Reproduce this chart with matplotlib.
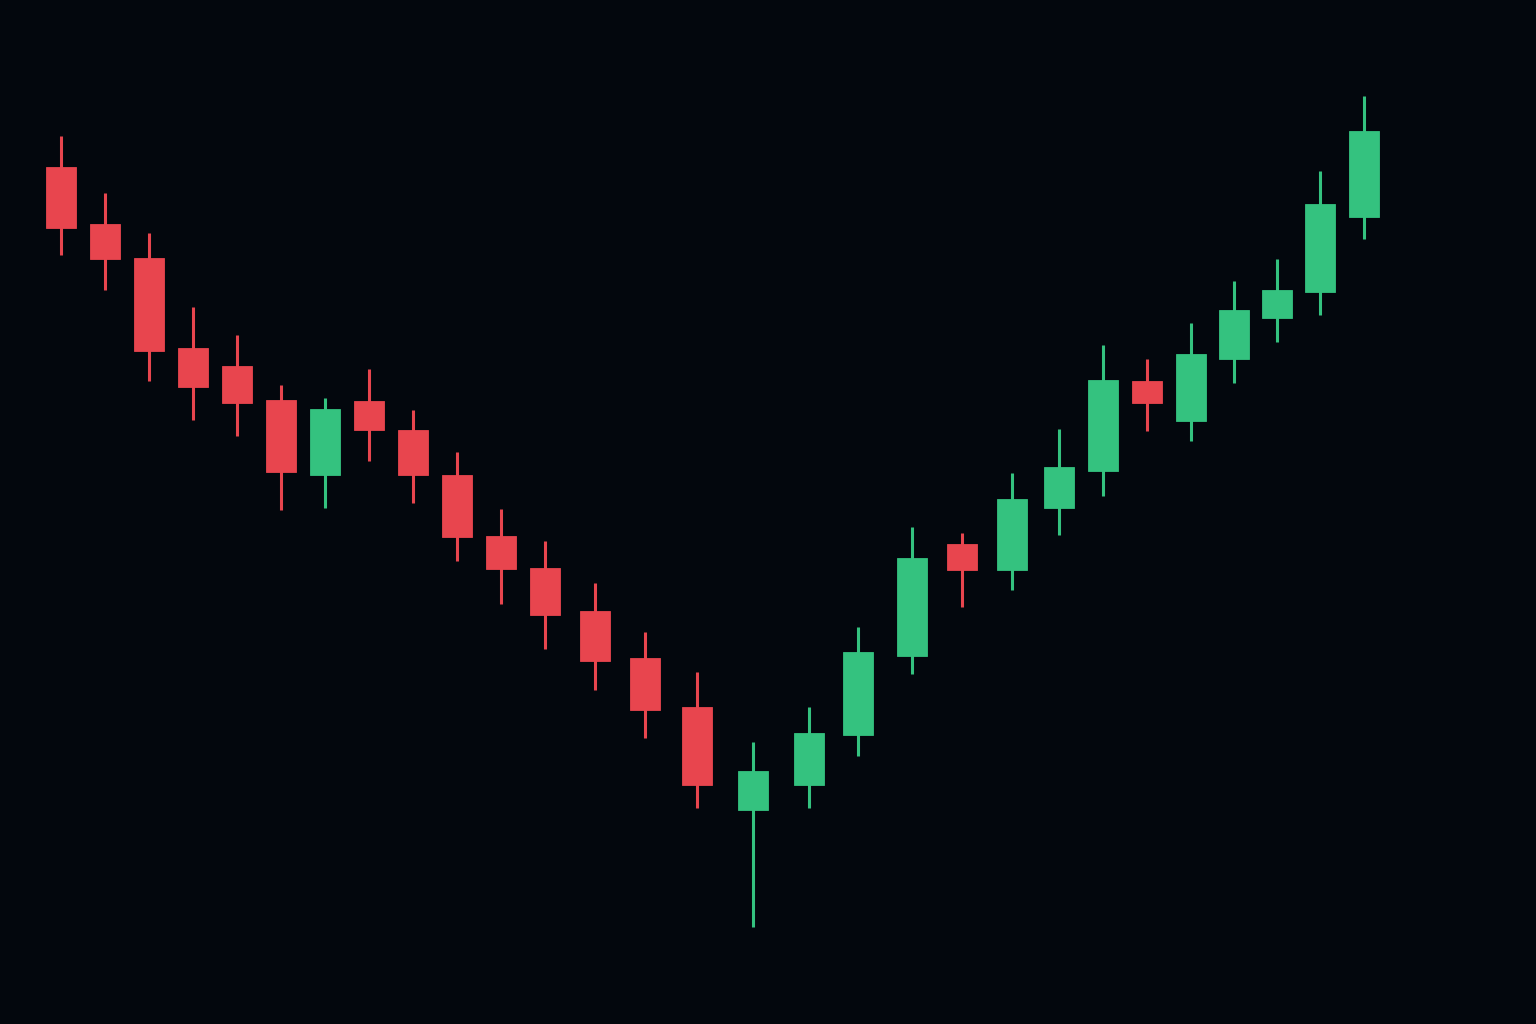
import numpy as np
import matplotlib.pyplot as plt

# session times (irregular spacing as in the source) and OHLC prices
times = [6.1, 10.5, 14.9, 19.3, 23.7, 28.1, 32.5, 36.9, 41.3, 45.7,
         50.1, 54.5, 59.5, 64.5, 69.7, 75.3, 80.9, 85.8, 91.2, 96.2,
         101.2, 105.9, 110.3, 114.7, 119.1, 123.4, 127.7, 132.0, 136.4]
opens = [85.7, 80.0, 76.6, 67.6, 65.8, 62.4, 54.9, 62.3, 59.4, 54.9,
         48.8, 45.6, 41.3, 36.6, 31.7, 21.4, 23.9, 28.9, 36.8, 48.0,
         45.4, 51.6, 55.3, 64.3, 60.3, 66.5, 70.6, 73.2, 80.7]
closes = [79.6, 76.5, 67.3, 63.7, 62.1, 55.2, 61.5, 59.4, 54.9, 48.7,
          45.5, 40.9, 36.3, 31.4, 23.9, 25.3, 29.1, 37.2, 46.6, 45.4,
          52.5, 55.7, 64.4, 62.1, 67.0, 71.4, 73.4, 82.0, 89.3]
highs = [88.8, 83.1, 79.1, 71.7, 68.9, 63.9, 62.6, 65.5, 61.4, 57.2,
         51.5, 48.3, 44.1, 39.2, 35.2, 28.2, 31.7, 39.7, 49.7, 49.1,
         55.1, 59.5, 67.9, 66.5, 70.1, 74.3, 76.5, 85.3, 92.8]
lows = [76.9, 73.4, 64.3, 60.4, 58.8, 51.4, 51.6, 56.3, 52.1, 46.3,
        42.0, 37.5, 33.4, 28.6, 21.6, 9.7, 21.6, 26.8, 35.0, 41.7,
        43.4, 48.9, 52.8, 59.3, 58.3, 64.1, 68.2, 70.9, 78.5]

bg = '#03070d'
up_color = '#34c27f'
down_color = '#e8454e'

o = np.array(opens)
c = np.array(closes)
colors = np.where(c >= o, up_color, down_color)

fig = plt.figure(figsize=(15.36, 10.24), dpi=100, facecolor=bg)
ax = fig.add_axes([0, 0, 1, 1])
ax.set_facecolor(bg)

# wicks then bodies
ax.vlines(times, lows, highs, colors=colors, linewidth=2.2, zorder=1)
ax.bar(times, np.abs(c - o), bottom=np.minimum(o, c), width=3.0,
       color=colors, edgecolor=colors, linewidth=0.6, zorder=2)

ax.set_xlim(0, 153.6)
ax.set_ylim(0, 102.4)
ax.axis('off')

fig.savefig('out.png', dpi=100, facecolor=bg)
